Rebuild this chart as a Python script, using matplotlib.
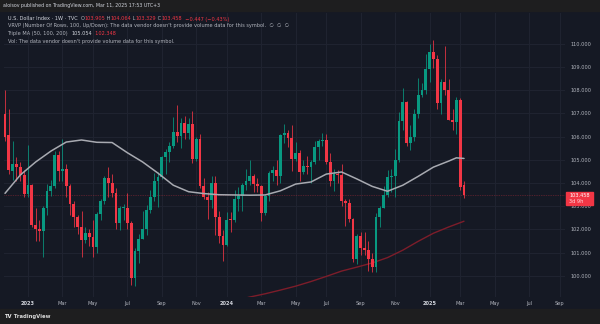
import numpy as np
import pandas as pd
import matplotlib
matplotlib.use("Agg")
import matplotlib.pyplot as plt
from matplotlib.patches import Rectangle

# ---------------- data (weekly DXY candles) ----------------
start_date = "2022-11-21"
opens = [106.97, 106.06, 104.53, 104.82, 104.70, 104.32, 103.52, 103.89, 102.20, 102.01,
         101.92, 102.92, 103.63, 103.87, 105.21, 104.52, 104.58, 103.86, 103.11, 102.51,
         102.08, 101.55, 101.82, 101.66, 101.22, 102.68, 103.20, 104.20, 104.00, 103.56,
         102.26, 102.90, 102.91, 102.27, 99.90, 101.07, 101.60, 102.02, 102.85, 103.40,
         104.10, 104.25, 105.10, 105.32, 105.60, 106.20, 106.04, 106.60, 106.16, 106.56,
         105.04, 105.91, 103.87, 103.40, 103.27, 104.01, 102.55, 101.70, 101.33, 102.42,
         102.40, 103.30, 103.45, 103.92, 104.10, 104.30, 103.94, 103.86, 102.71, 103.43,
         104.43, 104.55, 104.30, 106.06, 106.15, 105.94, 105.03, 105.30, 104.45, 104.72,
         104.67, 104.89, 105.55, 105.80, 105.87, 104.88, 104.08, 104.40, 104.32, 103.21,
         103.14, 102.45, 100.72, 101.70, 101.18, 101.11, 100.72, 100.38, 102.54, 102.90,
         103.49, 104.26, 104.28, 104.99, 106.68, 107.50, 105.74, 105.97, 106.99, 107.80,
         108.00, 108.91, 109.65, 109.35, 107.45, 108.37, 107.99, 106.71, 106.62, 107.56,
         103.905]
highs = [108.00, 107.19, 105.80, 105.10, 104.90, 104.55, 105.63, 103.95, 102.90, 102.40,
         103.00, 103.96, 104.12, 105.36, 105.36, 105.88, 104.80, 103.95, 103.20, 102.60,
         102.80, 102.10, 102.00, 102.40, 102.75, 103.30, 104.30, 104.70, 104.40, 103.80,
         103.00, 103.10, 103.55, 102.35, 101.20, 101.80, 102.80, 103.05, 103.70, 104.44,
         104.45, 105.16, 105.45, 105.78, 106.84, 107.35, 106.80, 106.90, 106.80, 107.10,
         106.00, 106.10, 104.20, 103.60, 104.30, 104.30, 102.80, 101.95, 102.75, 102.75,
         103.70, 103.82, 104.00, 104.60, 104.97, 104.40, 104.20, 103.90, 103.50, 104.50,
         104.73, 105.00, 106.10, 106.52, 106.30, 106.50, 105.75, 105.40, 105.00, 105.15,
         105.00, 105.80, 105.90, 106.13, 106.10, 105.30, 104.60, 104.55, 104.80, 103.30,
         103.30, 102.50, 101.80, 101.90, 101.90, 101.50, 101.00, 102.70, 103.00, 103.87,
         104.57, 104.60, 105.44, 107.07, 108.07, 107.55, 106.50, 107.20, 108.54, 108.30,
         109.54, 110.00, 110.17, 109.50, 108.50, 109.88, 108.50, 107.20, 107.70, 107.65,
         104.064]
lows = [105.80, 104.40, 104.12, 104.10, 104.10, 103.40, 103.40, 102.10, 101.50, 101.50,
        100.82, 102.60, 103.45, 103.78, 104.10, 104.10, 103.40, 102.60, 102.10, 101.80,
        100.80, 101.40, 101.30, 100.80, 101.00, 102.40, 103.10, 103.40, 103.40, 102.00,
        101.95, 102.40, 102.00, 99.58, 99.57, 100.55, 101.60, 101.75, 102.70, 103.20,
        102.95, 104.15, 104.40, 104.90, 105.50, 105.75, 105.50, 105.90, 105.90, 104.85,
        104.95, 103.80, 103.30, 102.46, 102.90, 101.77, 101.41, 100.62, 101.30, 101.90,
        102.30, 102.80, 102.80, 103.70, 103.90, 103.60, 103.60, 102.35, 102.60, 103.20,
        104.10, 103.90, 104.00, 105.70, 105.55, 104.52, 104.95, 104.08, 104.40, 104.40,
        103.99, 104.80, 105.00, 105.60, 104.80, 103.85, 103.65, 104.00, 103.00, 102.16,
        102.30, 100.60, 100.50, 100.90, 100.90, 100.22, 100.16, 100.16, 102.10, 102.90,
        103.40, 103.60, 103.40, 104.90, 106.30, 105.60, 105.40, 105.80, 106.80, 107.70,
        107.85, 108.35, 108.95, 107.20, 106.95, 107.80, 106.70, 106.30, 106.10, 103.70,
        103.329]
closes = [105.96, 104.56, 104.81, 104.70, 104.32, 103.52, 103.89, 102.20, 102.01, 101.92,
          102.92, 103.63, 103.87, 105.21, 104.52, 104.58, 103.86, 103.11, 102.51, 102.08,
          101.55, 101.82, 101.66, 101.22, 102.68, 103.20, 104.20, 104.00, 103.56, 102.26,
          102.90, 102.91, 102.27, 99.90, 101.07, 101.60, 102.02, 102.85, 103.40, 104.10,
          104.25, 105.10, 105.32, 105.60, 106.20, 106.04, 106.60, 106.16, 106.56, 105.04,
          105.91, 103.87, 103.40, 103.27, 104.01, 102.55, 101.70, 101.33, 102.42, 102.40,
          103.30, 103.45, 103.92, 104.10, 104.30, 103.94, 103.86, 102.71, 103.43, 104.43,
          104.55, 104.30, 106.06, 106.15, 105.94, 105.03, 105.30, 104.45, 104.72, 104.67,
          104.89, 105.55, 105.80, 105.87, 104.88, 104.08, 104.40, 104.32, 103.21, 103.14,
          102.45, 100.72, 101.70, 101.18, 101.11, 100.72, 100.38, 102.54, 102.90, 103.49,
          104.26, 104.28, 104.99, 106.68, 107.50, 105.74, 105.97, 106.99, 107.80, 108.00,
          108.91, 109.65, 109.35, 107.45, 108.37, 107.99, 106.71, 106.62, 107.56, 103.84,
          103.458]

# moving averages (bar index -> value)
ma50_bar = [0, 4, 8, 12, 16, 20, 24, 28, 32, 36, 40, 44, 48, 52, 56, 60, 64, 68, 72, 76,
            80, 84, 88, 92, 96, 100, 104, 108, 112, 116, 118, 120]
ma50_val = [103.55, 104.34, 104.90, 105.37, 105.76, 105.85, 105.75, 105.74, 105.30, 104.90,
            104.42, 103.90, 103.62, 103.54, 103.49, 103.48, 103.47, 103.48, 103.66, 103.95,
            104.04, 104.38, 104.47, 104.17, 103.85, 103.64, 103.90, 104.28, 104.68, 104.94,
            105.08, 105.054]
ma200_bar = [60, 64, 68, 72, 76, 80, 84, 88, 92, 96, 100, 104, 108, 112, 116, 120]
ma200_val = [98.92, 99.08, 99.22, 99.38, 99.55, 99.75, 99.97, 100.20, 100.37, 100.55,
             100.78, 101.10, 101.48, 101.83, 102.10, 102.348]

tick_dates = ["2023-01-01", "2023-03-01", "2023-05-01", "2023-07-01", "2023-09-01",
              "2023-11-01", "2024-01-01", "2024-03-01", "2024-05-01", "2024-07-01",
              "2024-09-01", "2024-11-01", "2025-01-01", "2025-03-01", "2025-05-01",
              "2025-07-01", "2025-09-01"]
tick_labels = ["2023", "Mar", "May", "Jul", "Sep", "Nov", "2024", "Mar", "May", "Jul",
               "Sep", "Nov", "2025", "Mar", "May", "Jul", "Sep"]
price_ticks = [100, 101, 102, 103, 104, 105, 106, 107, 108, 109, 110]

title_line = "aloisov published on TradingView.com, Mar 11, 2025 17:53 UTC+3"
symbol_line = "U.S. Dollar Index · 1W · TVC"
ohlc_text = ["103.905", "104.064", "103.329", "103.458"]
change_text = "\u22120.447 (\u22120.43%)"
vrvp_line = "VRVP (Number Of Rows, 100, Up/Down): The data vendor doesn't provide volume data for this symbol."
ma_line = "Triple MA (50, 100, 200)"
ma_values_text = ["105.054", "102.348"]
vol_line = "Vol: The data vendor doesn't provide volume data for this symbol."
countdown = "3d 9h"

# ---------------- style ----------------
BG = "#151924"
STRIP = "#1e1e1f"
GREEN = "#089981"
RED = "#f23645"
GRID = "#202431"
TXT = "#b2b5be"
TXT_HI = "#d1d4dc"
MA50_C = "#a8aab1"
MA200_C = "#7d1d2a"
FS = 3.6

plt.rcParams["font.family"] = ["DejaVu Sans"]

W, H = 600, 324
fig = plt.figure(figsize=(W / 100, H / 100), dpi=100)
fig.patch.set_facecolor(BG)

# top and bottom strips
fig.add_artist(Rectangle((0, 1 - 11 / H), 1, 11 / H, transform=fig.transFigure,
                         color=STRIP, zorder=0))
fig.add_artist(Rectangle((0, 0), 1, 15 / H, transform=fig.transFigure,
                         color=STRIP, zorder=0))

# price pane: px x 4..565, y 13..297
px_left, px_right, px_top, px_bot = 4, 565, 13, 297
ax = fig.add_axes([px_left / W, (H - px_bot) / H, (px_right - px_left) / W,
                   (px_bot - px_top) / H])
ax.set_facecolor(BG)
for s in ax.spines.values():
    s.set_visible(False)

# pixel calibration: 110 at y=43.7, 23.2 px per unit; bar 0 at x=5, 3.825 px per bar
y110, ppu = 43.7, 23.2
x0, ppb = 5.0, 3.825
ax.set_ylim(110 - (px_bot - y110) / ppu, 110 + (y110 - px_top) / ppu)
ax.set_xlim((px_left - x0) / ppb, (px_right - x0) / ppb)

o = np.array(opens); h = np.array(highs); l = np.array(lows); c = np.array(closes)
n = len(o)
idx = np.arange(n)
col = np.where(c >= o, GREEN, RED)

# grid
dates = pd.date_range(start_date, periods=n + 40, freq="W-MON")
tick_pos = [int(np.searchsorted(dates.values, np.datetime64(d))) for d in tick_dates]
ax.set_xticks(tick_pos)
ax.set_xticklabels(tick_labels)
ax.set_yticks(price_ticks)
ax.set_yticklabels([f"{v:.3f}" for v in price_ticks])
ax.grid(True, color=GRID, lw=0.7, zorder=0)
ax.set_axisbelow(True)
ax.yaxis.tick_right()
ax.tick_params(axis="y", length=0, pad=3.8, labelsize=FS, labelcolor=TXT)
ax.tick_params(axis="x", length=0, pad=2.6, labelsize=FS, labelcolor=TXT)
for lab in ax.get_xticklabels():
    if lab.get_text().isdigit():
        lab.set_fontweight("bold")
        lab.set_color(TXT_HI)

# last price line
ax.axhline(c[-1], color=RED, lw=0.5, ls=(0, (1, 1.5)), alpha=0.55, zorder=1)

# moving averages
ax.plot(ma200_bar, ma200_val, color=MA200_C, lw=1.0, zorder=2, solid_capstyle="round")
ax.plot(ma50_bar, ma50_val, color=MA50_C, lw=1.1, zorder=4, solid_capstyle="round")

# candles
ax.vlines(idx, l, h, colors=col, lw=0.55, zorder=3)
body_lo = np.minimum(o, c)
body_h = np.maximum(np.abs(c - o), 0.045)
ax.bar(idx, body_h, bottom=body_lo, width=0.74, color=col, lw=0, zorder=3)

# last price label on the price scale
ytr = ax.get_yaxis_transform()
box_w = 27 / (px_right - px_left)
ax.add_patch(Rectangle((1 + 1 / (px_right - px_left), c[-1] - 0.41), box_w, 0.57,
                       transform=ytr, color=RED, clip_on=False, zorder=10))
ax.text(1 + 4 / (px_right - px_left), c[-1], f"{c[-1]:.3f}", transform=ytr,
        ha="left", va="center", fontsize=FS, color="white", zorder=11, clip_on=False)
ax.text(1 + 4 / (px_right - px_left), c[-1] - 0.27, countdown, transform=ytr,
        ha="left", va="center", fontsize=FS, color="#ffd9dc", zorder=11, clip_on=False)

# ---------------- header / footer text ----------------
ov = fig.add_axes([0, 0, 1, 1])
ov.set_xlim(0, W)
ov.set_ylim(H, 0)
ov.axis("off")
ov.patch.set_visible(False)
ov.set_zorder(20)


def chain(x, y, parts, weight="normal", size=FS):
    t = ov.text(x, y, parts[0][0], color=parts[0][1], fontsize=size, ha="left",
                va="center", fontweight=weight)
    for s, cc in parts[1:]:
        t = ov.annotate(s, xy=(1, 0), xycoords=t, xytext=(0, 0), textcoords="offset points",
                        ha="left", va="bottom", color=cc, fontsize=size, fontweight=weight)
    return t


ov.text(3, 6, title_line, color=TXT_HI, fontsize=FS * 0.96, ha="left", va="center")
chain(7.5, 19, [(symbol_line + "  ", TXT_HI), ("O", TXT), (ohlc_text[0], RED),
                (" H", TXT), (ohlc_text[1], RED), (" L", TXT), (ohlc_text[2], RED),
                (" C", TXT), (ohlc_text[3], RED), ("  " + change_text, RED)])
ov.text(7.5, 26, vrvp_line + "  \u2205  \u2205  \u2205", color=TXT, fontsize=FS,
        ha="left", va="center")
chain(7.5, 33.5, [(ma_line + "  ", TXT), (ma_values_text[0], TXT_HI),
                  ("  " + ma_values_text[1], RED)])
ov.text(7.5, 41.5, vol_line, color=TXT, fontsize=FS, ha="left", va="center")

chain(4, 316.5, [("TV", "#e8e8e8"), (" TradingView", "#d8d8d8")], weight="bold",
      size=FS * 1.05)

fig.savefig("out.png", dpi=100, facecolor=fig.get_facecolor())
